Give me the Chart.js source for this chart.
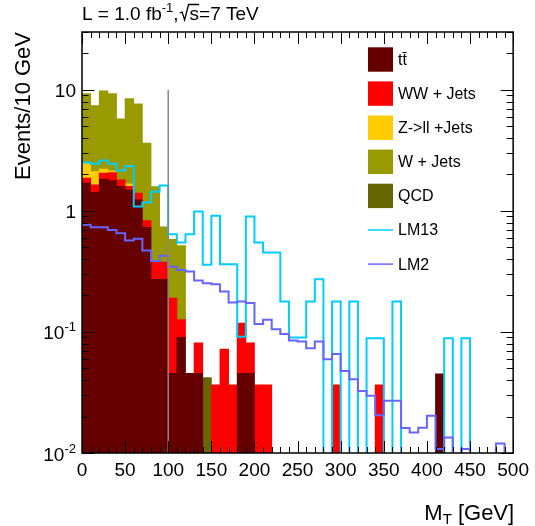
<!DOCTYPE html>
<html><head><meta charset="utf-8">
<script src="https://cdn.jsdelivr.net/npm/chart.js@4/dist/chart.umd.min.js"></script>
<style>html,body{margin:0;padding:0;background:#fff;overflow:hidden}canvas{display:block}</style>
</head><body>
<canvas id="c" width="535" height="526"></canvas>
<script>
// ---- data (10 GeV bins, M_T) ----
const binLowEdges = [0,10,20,30,40,50,60,70,80,90,100,110,120,130,140,150,160,170,180,190,200,210,220,230,240,250,260,270,280,290,300,310,320,330,340,350,360,370,380,390,400,410,420,430,440,450,460,470,480,490];
const binWidth = 10;
const ttbar = [1.69,1.42,1.83,1.78,1.59,1.49,1.23,0.73,0.272,0.272,0.0455,0.090,0.0455,0.0455,0,0,0,0,0.0455,0.0455,0,0,0,0,0,0,0,0,0,0,0,0,0,0,0,0,0,0,0,0,0,0.045,0,0,0,0,0,0,0,0];
const wwJets = [0.17,0.22,0.22,0.29,0.21,0.10,0.17,0.10,0.105,0.105,0.145,0.036,0,0.0355,0,0.0365,0.072,0.0365,0.0725,0.0355,0.0365,0.0365,0,0,0,0,0,0,0,0.0365,0,0,0,0,0.0365,0,0,0,0,0,0,0,0,0,0,0,0,0,0,0];
const zllJets = [0.62,0.47,0.16,0.07,0,0.08,0,0,0,0,0,0,0,0,0,0,0,0,0,0,0,0,0,0,0,0,0,0,0,0,0,0,0,0,0,0,0,0,0,0,0,0,0,0,0,0,0,0,0,0];
const wJets = [6.79,5.27,7.59,7.13,3.95,6.76,6.26,2.80,1.21,0.36,0.39,0.39,0,0,0,0,0,0,0,0,0,0,0,0,0,0,0,0,0,0,0,0,0,0,0,0,0,0,0,0,0,0,0,0,0,0,0,0,0,0];
const qcd = [0,0,0,0,0,0,0,0,0,0,0,0,0,0,0.042,0,0,0,0,0,0,0,0,0,0,0,0,0,0,0,0,0,0,0,0,0,0,0,0,0,0,0,0,0,0,0,0,0,0,0];
const lm13 = [2.51,2.45,2.60,2.45,2.15,2.35,1.085,1.17,1.44,1.62,0.64,0.547,0.64,0.987,0.358,0.909,0.363,0.363,0.0914,0.897,0.547,0.453,0.453,0.178,0.090,0.090,0.178,0.272,0,0.178,0,0.178,0,0.0887,0.0887,0,0.178,0,0,0,0,0,0.0887,0,0.0887,0,0,0,0,0];
const lm2 = [0.766,0.733,0.733,0.696,0.654,0.568,0.587,0.470,0.386,0.425,0.346,0.325,0.315,0.266,0.252,0.248,0.216,0.175,0.178,0.173,0.116,0.126,0.105,0.096,0.0848,0.0833,0.0733,0.0833,0.0595,0.0658,0.0476,0.0406,0.0325,0.0297,0.0205,0.027,0.027,0.0161,0.0148,0.0162,0.0203,0.0108,0.0134,0,0.0108,0,0,0,0.012,0];
const cutX = [100, 100];
const cutY = [0.01, 10];
const seriesLabels = ['t\u0074\u0304', 'WW + Jets', 'Z->ll +Jets', 'W + Jets', 'QCD', 'LM13', 'LM2'];
const xTickValues = [0,50,100,150,200,250,300,350,400,450,500];
const xTickLabels = ['0','50','100','150','200','250','300','350','400','450','500'];
const yTickValues = [0.01, 0.1, 1, 10];
const yTickLabels = ['10^-2', '10^-1', '1', '10'];
const titleText = ['L = 1.0 fb', '-1', ',', 's', '=7 TeV'];
const xTitle = ['M', 'T', ' [GeV]'];
const yTitle = 'Events/10 GeV';

const FONT = '"Liberation Sans", Arial, Helvetica, sans-serif';
const colors = ['#660000', '#ff0000', '#ffcc00', '#999900', '#666600', '#00ccff', '#6666ff'];

function barPoints(vals) {
  return binLowEdges.map((x, i) => ({ x: x + binWidth / 2, y: vals[i] > 0 ? vals[i] : null }));
}
function stepPoints(vals) {
  const pts = binLowEdges.map((x, i) => ({ x: x, y: vals[i] > 0 ? vals[i] : 1e-5 }));
  pts.push({ x: binLowEdges[binLowEdges.length - 1] + binWidth, y: pts[pts.length - 1].y });
  return pts;
}
const barSeries = [ttbar, wwJets, zllJets, wJets, qcd];
const datasets = barSeries.map((vals, i) => ({
  type: 'bar', label: seriesLabels[i], data: barPoints(vals),
  backgroundColor: colors[i], borderWidth: 0, barPercentage: 1, categoryPercentage: 1,
  inflateAmount: 0.4, order: 5, stack: 'bkg'
}));
datasets.push({ type: 'line', label: seriesLabels[5], data: stepPoints(lm13), stack: 'lm13',
  borderColor: colors[5], borderWidth: 2, pointRadius: 0, stepped: 'before', fill: false, order: 3 });
datasets.push({ type: 'line', label: seriesLabels[6], data: stepPoints(lm2), stack: 'lm2',
  borderColor: colors[6], borderWidth: 2, pointRadius: 0, stepped: 'before', fill: false, order: 2 });
datasets.push({ type: 'line', label: 'cut', data: cutX.map((x, i) => ({ x: x, y: cutY[i] })), stack: 'cut',
  borderColor: '#888888', borderWidth: 1.5, pointRadius: 0, fill: false, order: 1 });

function drawSup(ctx, base, exp, xRight, yBase, size) {
  ctx.font = size + 'px ' + FONT;
  const wb = ctx.measureText(base).width;
  ctx.font = Math.round(size * 0.68) + 'px ' + FONT;
  const we = exp ? ctx.measureText(exp).width : 0;
  const x0 = xRight - wb - we;
  ctx.font = size + 'px ' + FONT;
  ctx.fillText(base, x0, yBase);
  if (exp) {
    ctx.font = Math.round(size * 0.68) + 'px ' + FONT;
    ctx.fillText(exp, x0 + wb, yBase - size * 0.42);
  }
}

const decor = {
  id: 'decor',
  afterDatasetsDraw(chart) {
    const { ctx, chartArea: a, scales: { x, y } } = chart;
    ctx.save();
    ctx.strokeStyle = '#000';
    ctx.lineWidth = 1;
    ctx.beginPath();
    for (let v = 0; v <= 500; v += 10) {
      const px = Math.round(x.getPixelForValue(v)) + 0.5;
      const len = v % 50 === 0 ? 12 : 6;
      ctx.moveTo(px, a.bottom); ctx.lineTo(px, a.bottom - len);
      ctx.moveTo(px, a.top); ctx.lineTo(px, a.top + len);
    }
    yTickValues.forEach(d => {
      for (let m = 1; m <= 9; m++) {
        const v = d * m;
        if (v > y.max * 1.001) continue;
        const py = Math.round(y.getPixelForValue(v)) + 0.5;
        const len = m === 1 ? 12.5 : 6.5;
        ctx.moveTo(a.left, py); ctx.lineTo(a.left + len, py);
        ctx.moveTo(a.right, py); ctx.lineTo(a.right - len, py);
      }
    });
    ctx.stroke();
    ctx.lineWidth = 1.5;
    ctx.strokeRect(a.left, a.top, a.right - a.left, a.bottom - a.top);
    ctx.restore();
  },
  afterDraw(chart) {
    const { ctx, chartArea: a, scales: { y } } = chart;
    ctx.save();
    ctx.fillStyle = '#000';
    ctx.textBaseline = 'alphabetic';
    ctx.textAlign = 'left';
    // y tick labels
    yTickValues.forEach((v, i) => {
      const parts = yTickLabels[i].split('^');
      drawSup(ctx, parts[0], parts[1], a.left - 6, y.getPixelForValue(v) + 7.5, 19);
    });
    // title
    let tx = a.left, ty = 20;
    ctx.font = '19px ' + FONT;
    ctx.fillText(titleText[0], tx, ty); tx += ctx.measureText(titleText[0]).width;
    ctx.font = '13px ' + FONT;
    ctx.fillText(titleText[1], tx, ty - 8); tx += ctx.measureText(titleText[1]).width;
    ctx.font = '19px ' + FONT;
    ctx.fillText(titleText[2], tx, ty); tx += ctx.measureText(titleText[2]).width;
    // radical sign
    ctx.strokeStyle = '#000'; ctx.lineWidth = 1.3;
    ctx.beginPath();
    ctx.moveTo(tx + 1, ty - 7); ctx.lineTo(tx + 3.5, ty - 8); ctx.lineTo(tx + 6, ty); ctx.lineTo(tx + 10, ty - 15.5);
    const sw = ctx.measureText(titleText[3]).width;
    ctx.lineTo(tx + 11 + sw, ty - 15.5);
    ctx.stroke();
    tx += 11;
    ctx.fillText(titleText[3], tx, ty); tx += sw;
    ctx.fillText(titleText[4], tx, ty);
    // x title
    ctx.font = '22px ' + FONT;
    const w1 = ctx.measureText(xTitle[0]).width, w3 = ctx.measureText(xTitle[2]).width;
    ctx.font = '15px ' + FONT;
    const w2 = ctx.measureText(xTitle[1]).width;
    let xx = a.right + 1 - (w1 + w2 + w3), xy = 520;
    ctx.font = '22px ' + FONT; ctx.fillText(xTitle[0], xx, xy); xx += w1;
    ctx.font = '15px ' + FONT; ctx.fillText(xTitle[1], xx, xy + 4); xx += w2;
    ctx.font = '22px ' + FONT; ctx.fillText(xTitle[2], xx, xy);
    // y title
    ctx.save();
    ctx.translate(29.5, a.top);
    ctx.rotate(-Math.PI / 2);
    ctx.textAlign = 'right';
    ctx.font = '22px ' + FONT;
    ctx.fillText(yTitle, 0, 0);
    ctx.restore();
    // legend
    ctx.font = '16px ' + FONT;
    ctx.textBaseline = 'middle';
    seriesLabels.forEach((lab, i) => {
      const cy = 59.5 + i * 34.1;
      if (i < 5) {
        ctx.fillStyle = colors[i];
        ctx.fillRect(368, cy - 12.2, 25, 24.4);
      } else {
        ctx.strokeStyle = colors[i]; ctx.lineWidth = 1.5;
        ctx.beginPath(); ctx.moveTo(368, cy); ctx.lineTo(393, cy); ctx.stroke();
      }
      ctx.fillStyle = '#000';
      ctx.fillText(lab, 398, cy + 1);
    });
    ctx.restore();
  }
};

new Chart(document.getElementById('c'), {
  type: 'bar',
  data: { datasets: datasets },
  options: {
    responsive: false, animation: false, devicePixelRatio: 1,
    layout: { padding: { left: 82, right: 18, top: 32, bottom: 0 } },
    plugins: { legend: { display: false }, tooltip: { enabled: false }, title: { display: false } },
    scales: {
      x: {
        type: 'linear', min: 0, max: 500, offset: false, stacked: true,
        grid: { display: false, drawTicks: false }, border: { display: false },
        afterBuildTicks: s => { s.ticks = xTickValues.map(v => ({ value: v })); },
        afterFit: s => { s.height = 73; },
        ticks: {
          autoSkip: false, maxRotation: 0, padding: 6, color: '#000',
          font: { size: 19, family: FONT },
          callback: v => xTickLabels[xTickValues.indexOf(v)]
        }
      },
      y: { type: 'logarithmic', min: 0.01, max: 30, stacked: true, display: false }
    }
  },
  plugins: [decor]
});
</script>
</body></html>
